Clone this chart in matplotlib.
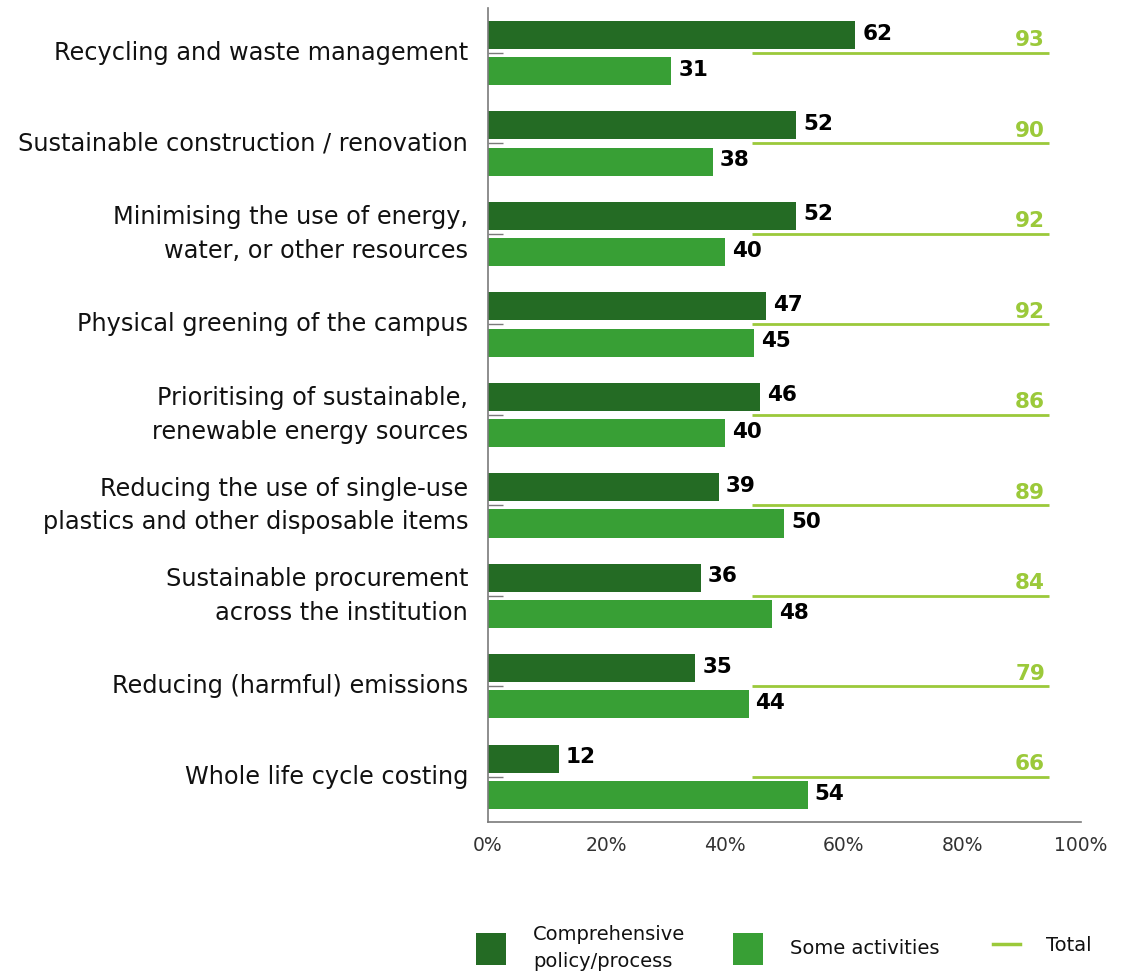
import matplotlib
matplotlib.use("Agg")
import matplotlib.pyplot as plt
from matplotlib.patches import Rectangle
from matplotlib.lines import Line2D
import numpy as np

plt.rcParams['font.family'] = ['DejaVu Sans Condensed', 'DejaVu Sans']

categories = [
    "Recycling and waste management",
    "Sustainable construction / renovation",
    "Minimising the use of energy,\nwater, or other resources",
    "Physical greening of the campus",
    "Prioritising of sustainable,\nrenewable energy sources",
    "Reducing the use of single-use\nplastics and other disposable items",
    "Sustainable procurement\nacross the institution",
    "Reducing (harmful) emissions",
    "Whole life cycle costing",
]
comprehensive = [62, 52, 52, 47, 46, 39, 36, 35, 12]
some_activities = [31, 38, 40, 45, 40, 50, 48, 44, 54]
total = [93, 90, 92, 92, 86, 89, 84, 79, 66]
xticks = [0, 20, 40, 60, 80, 100]

dark = '#246b24'
light = '#389f35'
lime = '#9bc93a'
grey = '#7a7a7a'

fig = plt.figure(figsize=(11.21, 9.71), dpi=100)
ax = fig.add_axes([0.435, 0.1534, 0.529, 0.8386])

y = np.arange(len(categories))
h = 0.31
ax.barh(y - 0.2, comprehensive, height=h, color=dark)
ax.barh(y + 0.2, some_activities, height=h, color=light)

for i in range(len(categories)):
    ax.annotate(str(comprehensive[i]), (comprehensive[i], y[i] - 0.2), xytext=(5, 1),
                textcoords='offset points', va='center', ha='left',
                fontsize=15.5, fontweight='bold', color='black')
    ax.annotate(str(some_activities[i]), (some_activities[i], y[i] + 0.2), xytext=(5, 1),
                textcoords='offset points', va='center', ha='left',
                fontsize=15.5, fontweight='bold', color='black')
    ax.plot([44.6, 94.6], [y[i], y[i]], color=lime, lw=2, solid_capstyle='butt')
    ax.annotate(str(total[i]), (94, y[i]), xytext=(0, 2), textcoords='offset points',
                va='bottom', ha='right', fontsize=15.5, fontweight='bold', color=lime)

ax.set_xlim(0, 100)
ax.set_ylim(8.5, -0.5)
ax.set_yticks(y)
ax.set_yticklabels(categories, fontsize=17.3, color='#111111', linespacing=1.5, va='center')
ax.set_xticks(xticks)
ax.set_xticklabels([f"{t}%" for t in xticks], fontsize=13.5, color='#333333')
ax.tick_params(axis='y', direction='in', length=11, width=1, color=grey, pad=14)
ax.tick_params(axis='x', length=0, pad=10)
for s in ['top', 'right']:
    ax.spines[s].set_visible(False)
for s in ['left', 'bottom']:
    ax.spines[s].set_color(grey)
    ax.spines[s].set_linewidth(1.2)

# legend, placed by hand along the bottom edge
W, H = 1121, 971
fig.add_artist(Rectangle((476 / W, 1 - 965 / H), 30 / W, 32 / H, transform=fig.transFigure,
                         facecolor=dark, edgecolor='none'))
fig.text(533 / W, 1 - 948 / H, "Comprehensive\npolicy/process", fontsize=14,
         va='center', ha='left', linespacing=1.55, color='#111111')
fig.add_artist(Rectangle((733 / W, 1 - 965 / H), 30 / W, 32 / H, transform=fig.transFigure,
                         facecolor=light, edgecolor='none'))
fig.text(790 / W, 1 - 948 / H, "Some activities", fontsize=14,
         va='center', ha='left', color='#111111')
fig.add_artist(Line2D([993 / W, 1020 / W], [1 - 944 / H, 1 - 944 / H], transform=fig.transFigure,
                      color=lime, lw=2.5))
fig.text(1046 / W, 1 - 945 / H, "Total", fontsize=14,
         va='center', ha='left', color='#111111')

fig.savefig('out.png', dpi=100)
